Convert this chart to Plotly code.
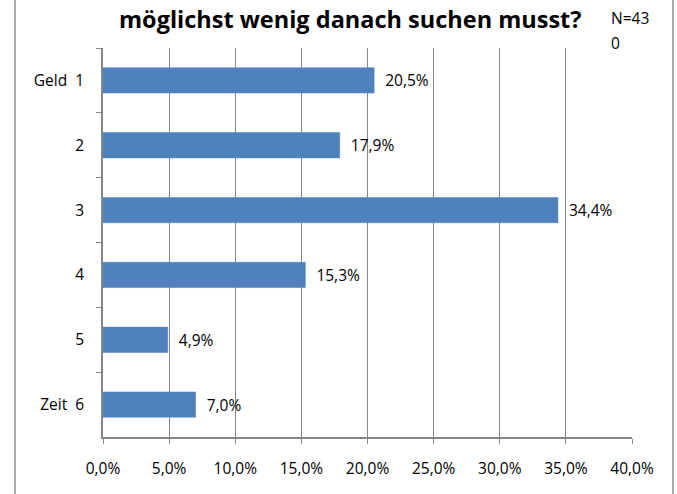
import plotly.graph_objects as go

categories = ["Geld\u00a0\u00a01", "2", "3", "4", "5", "Zeit\u00a0\u00a06"]
values = [20.5, 17.9, 34.4, 15.3, 4.9, 7.0]
x_ticks = [0, 5, 10, 15, 20, 25, 30, 35, 40]
x_ticklabels = ["0,0%", "5,0%", "10,0%", "15,0%", "20,0%", "25,0%", "30,0%", "35,0%", "40,0%"]
title_text = "möglichst wenig danach suchen musst?"
n_line1 = "N=43"
n_line2 = "0"

FONT = "Open Sans"
FS = 15.5
GRID = "#868686"

fig = go.Figure(go.Bar(
    x=values,
    y=categories,
    orientation="h",
    marker=dict(color="#4F81BD", line=dict(color="#4A7EBB", width=0.5)),
    width=0.39,
    text=values,
    texttemplate="\u00a0\u00a0%{x:.1f}%",
    textposition="outside",
    cliponaxis=False,
    textfont=dict(family=FONT, size=FS, color="#000000"),
))

W, H = 677, 494
L, R, T, B = 103, 45, 48, 57
pw, ph = W - L - R, H - T - B

def px_x(px):
    return (px - L) / pw

def px_y(py):
    return 1 + (T - py) / ph

fig.update_layout(
    width=W, height=H,
    margin=dict(l=L, r=R, t=T, b=B),
    paper_bgcolor="white",
    plot_bgcolor="white",
    separators=",.",
    showlegend=False,
    font=dict(family=FONT, size=FS, color="#000000"),
    bargap=0.61,
    xaxis=dict(
        range=[0, 40],
        tickvals=x_ticks,
        ticktext=x_ticklabels,
        showgrid=True, gridcolor=GRID, gridwidth=1,
        showline=True, linecolor=GRID, linewidth=1.5,
        ticks="outside", ticklen=5, tickcolor=GRID,
        ticklabelstandoff=12,
        zeroline=False,
        tickfont=dict(family=FONT, size=FS, color="#000000"),
    ),
    yaxis=dict(
        autorange="reversed",
        showgrid=False,
        showline=True, linecolor=GRID, linewidth=1.5,
        ticks="outside", ticklen=5, tickcolor=GRID,
        tickson="boundaries",
        ticklabelstandoff=14,
        tickfont=dict(family=FONT, size=FS, color="#000000"),
    ),
    annotations=[
        dict(text="<b>" + title_text + "</b>", xref="paper", yref="paper",
             x=px_x(350), y=px_y(1), xanchor="center", yanchor="top",
             showarrow=False, font=dict(family=FONT, size=23.5, color="#000000")),
        dict(text=n_line1, xref="paper", yref="paper",
             x=px_x(609), y=px_y(18), xanchor="left", yanchor="middle",
             showarrow=False, font=dict(family=FONT, size=FS, color="#000000")),
        dict(text=n_line2, xref="paper", yref="paper",
             x=px_x(609), y=px_y(43), xanchor="left", yanchor="middle",
             showarrow=False, font=dict(family=FONT, size=FS, color="#000000")),
    ],
    shapes=[
        dict(type="line", xref="paper", yref="paper",
             x0=px_x(15), x1=px_x(15), y0=-2, y1=2,
             line=dict(color="#8C8C8C", width=1.5)),
        dict(type="line", xref="paper", yref="paper",
             x0=px_x(673), x1=px_x(673), y0=-2, y1=2,
             line=dict(color="#8C8C8C", width=1.5)),
    ],
)

fig.write_html("out.html", config={"displayModeBar": False},
               post_script="document.body.style.margin='0';")
